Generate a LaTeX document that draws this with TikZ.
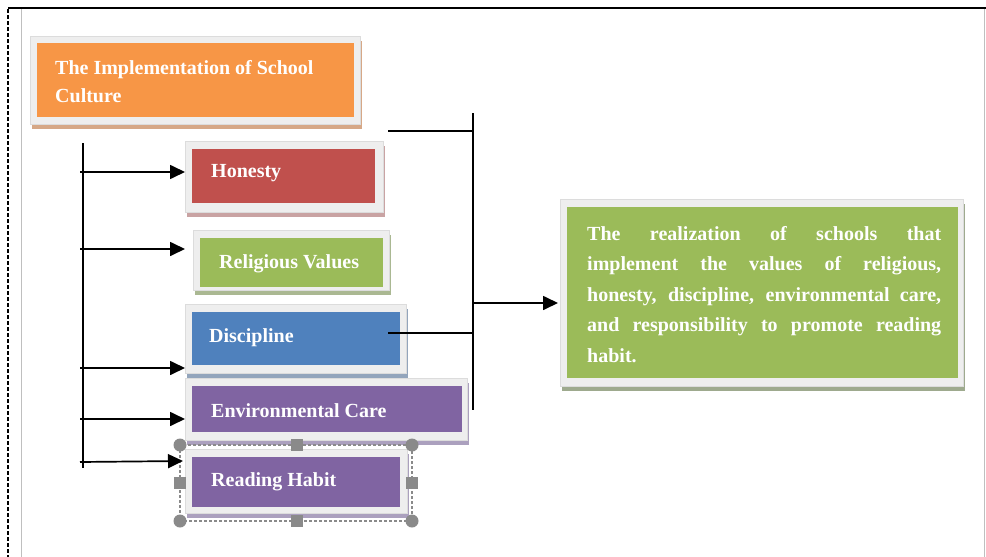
\documentclass[tikz,border=0pt]{standalone}
\usepackage{fontspec}
\setmainfont{Liberation Serif}
\usetikzlibrary{arrows.meta,shadows}
\definecolor{cOrange}{HTML}{F79646}
\definecolor{cRed}{HTML}{C0504D}
\definecolor{cGreen}{HTML}{9BBB59}
\definecolor{cBlue}{HTML}{4F81BD}
\definecolor{cPurple}{HTML}{8064A2}
\definecolor{frameGray}{HTML}{EEEEEE}
\definecolor{frameEdge}{HTML}{DCDCDC}
\definecolor{shOrange}{HTML}{D6A887}
\definecolor{shRed}{HTML}{C9A3A3}
\definecolor{shGreen}{HTML}{AAB892}
\definecolor{shBlue}{HTML}{93A5BC}
\definecolor{shPurple}{HTML}{ABA0BE}
\definecolor{shResult}{HTML}{9EAA8E}
\definecolor{handleGray}{HTML}{8A8A8A}
\begin{document}
\begin{tikzpicture}[x=1pt,y=-1pt,
  frame/.style={fill=frameGray, draw=frameEdge, line width=0.6pt, inner sep=0pt, outer sep=0pt,
     drop shadow={shadow xshift=2pt, shadow yshift=-5pt, fill=#1, opacity=1}},
  colbox/.style={fill=#1, draw=none, inner sep=0pt, outer sep=0pt},
  lbl/.style={text=white, font=\bfseries\fontsize{20}{28}\selectfont, inner sep=0pt, anchor=base west},
  ln/.style={draw=black, line width=1.7pt},
  arr/.style={draw=black, line width=1.7pt, -{Triangle[length=15pt,width=14pt]}},
  handleC/.style={circle, fill=handleGray, minimum size=13pt, inner sep=0pt},
  handleS/.style={rectangle, fill=handleGray, minimum size=12pt, inner sep=0pt}
]
\useasboundingbox (0,0) rectangle (986,557);

% page frame
\draw[line width=2pt] (8,8) -- (986,8);
\draw[line width=2pt, dash pattern=on 4pt off 2pt] (8,9) -- (8,557);
\draw[black!25, line width=1pt] (21,9) -- (21,557);
\draw[black!25, line width=1pt] (984,9) -- (984,557);

% Orange title box
\node[frame=shOrange, minimum width=330pt, minimum height=88pt] (orF) at (195,80) {};
\node[colbox=cOrange, minimum width=317pt, minimum height=74pt] (or) at (195.5,80) {};
\node[lbl] (orT) at (55,74) {\parbox[t]{300pt}{\fontsize{20}{28}\selectfont The Implementation of School\\Culture}};

% Honesty
\node[frame=shRed, minimum width=198pt, minimum height=71pt] (honF) at (284,176.5) {};
\node[colbox=cRed, minimum width=183pt, minimum height=54pt] (hon) at (283.5,176) {};
\node[lbl] (honT) at (211,177) {Honesty};

% Religious Values
\node[frame=shGreen, minimum width=196pt, minimum height=60pt] (relF) at (291,260) {};
\node[colbox=cGreen, minimum width=183pt, minimum height=49pt] (rel) at (291.5,262.5) {};
\node[lbl] (relT) at (219,268) {Religious Values};

% Discipline
\node[frame=shBlue, minimum width=221pt, minimum height=69pt] (disF) at (295.5,338.5) {};
\node[colbox=cBlue, minimum width=208pt, minimum height=53pt] (dis) at (296,338.5) {};
\node[lbl] (disT) at (209,342) {Discipline};

% Environmental Care
\node[frame=shPurple, minimum width=282pt, minimum height=62pt] (envF) at (326,409) {};
\node[colbox=cPurple, minimum width=270pt, minimum height=46pt] (env) at (327,409) {};
\node[lbl] (envT) at (211,417) {Environmental Care};

% Reading Habit
\node[frame=shPurple, minimum width=222pt, minimum height=64pt] (reaF) at (296,481) {};
\node[colbox=cPurple, minimum width=208pt, minimum height=50pt] (rea) at (296,482) {};
\node[lbl] (reaT) at (211,486) {Reading Habit};

% selection frame around Reading Habit
\draw[handleGray, line width=1.2pt, dash pattern=on 3pt off 2pt] (180,445) rectangle (412,521);
\node[handleC] (h1) at (180,445) {};
\node[handleC] (h2) at (412,445) {};
\node[handleC] (h3) at (180,521) {};
\node[handleC] (h4) at (412,521) {};
\node[handleS] (h5) at (297,445) {};
\node[handleS] (h6) at (297,521) {};
\node[handleS] (h7) at (180,483) {};
\node[handleS] (h8) at (412,483) {};

% Result box
\node[frame=shResult, minimum width=403pt, minimum height=187pt] (resF) at (761.5,292.5) {};
\node[colbox=cGreen, minimum width=391pt, minimum height=171pt] (res) at (762.5,292.5) {};
\node[lbl] (resT) at (587,240) {\parbox[t]{354pt}{\fontsize{20}{30.5}\selectfont
\makebox[354pt][s]{The realization of schools that}\\
\makebox[354pt][s]{implement the values of religious,}\\
\makebox[354pt][s]{honesty, discipline, environmental care,}\\
\makebox[354pt][s]{and responsibility to promote reading}\\
habit.}};

% left connectors
\coordinate (LT) at (83,143);
\coordinate (LB) at (83,468);
\draw[ln] (LT) -- (LB);
\coordinate (a1) at (80,172);  \coordinate (b1) at (185,172);
\coordinate (a2) at (80,249);  \coordinate (b2) at (185,249);
\coordinate (a3) at (80,368);  \coordinate (b3) at (185,368);
\coordinate (a4) at (80,419);  \coordinate (b4) at (185,419);
\coordinate (a5) at (80,462);  \coordinate (b5) at (183,461);
\draw[arr] (a1) -- (b1);
\draw[arr] (a2) -- (b2);
\draw[arr] (a3) -- (b3);
\draw[arr] (a4) -- (b4);
\draw[arr] (a5) -- (b5);

% right connectors
\coordinate (RT) at (473,113);
\coordinate (RB) at (473,410);
\draw[ln] (RT) -- (RB);
\coordinate (o1) at (388,131);
\draw[ln] (o1) -- (o1 -| RT);
\coordinate (d1) at (388,333);
\draw[ln, line width=1.5pt] (d1) -- (d1 -| RT);
\coordinate (m1) at (473,303);
\coordinate (m2) at (558,303);
\draw[arr] (m1) -- (m2);
\end{tikzpicture}
\end{document}
